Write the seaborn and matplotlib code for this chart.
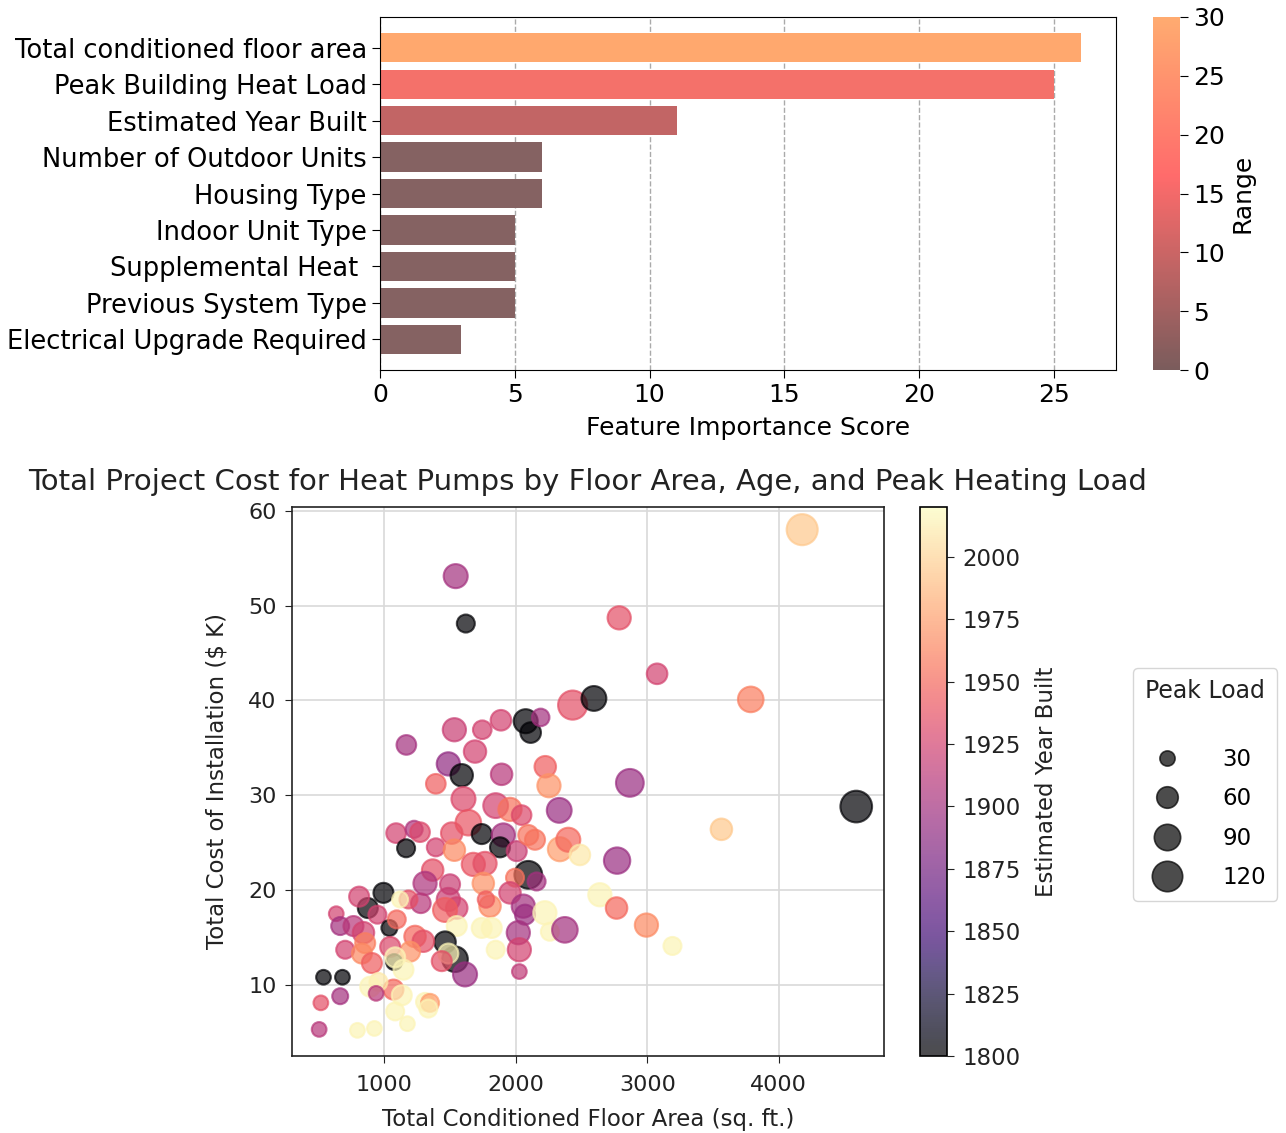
import numpy as np
import pandas as pd
import matplotlib
matplotlib.use("Agg")
import matplotlib.pyplot as plt
import seaborn as sns
from matplotlib.colors import LinearSegmentedColormap, Normalize
from matplotlib.cm import ScalarMappable
from matplotlib.lines import Line2D

# feature importance (top panel)
features = ["Total conditioned floor area", "Peak Building Heat Load", "Estimated Year Built",
            "Number of Outdoor Units", "Housing Type", "Indoor Unit Type",
            "Supplemental Heat ", "Previous System Type", "Electrical Upgrade Required"]
scores = [26, 25, 11, 6, 6, 5, 5, 5, 3]
bar_colors = ["#ffa86e", "#f4716a", "#c26565", "#856262", "#856262", "#856262",
              "#856262", "#856262", "#856262"]

# projects (bottom panel)
area = [1544, 1621, 2433, 2595, 1534, 1746, 1888, 2076, 2114, 2190, 1169, 1691, 1488, 1590, 2225,
        1893, 1393, 2253, 1603, 1848, 1957, 2045, 2331, 1091, 1228, 1273, 1167, 1393, 1514, 1534,
        1640, 1742, 1906, 1881, 2008, 2096, 2147, 2336, 2400, 2488, 1369, 1678, 1767, 1754, 1805,
        1774, 1311, 1279, 1501, 1488, 1552, 1463, 2096, 2159, 1995, 1957, 2058, 2071, 2222, 2260,
        2374, 2020, 2028, 1848, 1742, 1818, 1552, 2028, 1463, 1539, 1615, 1488, 1438, 995, 876,
        810, 636, 666, 767, 843, 949, 856, 704, 831, 907, 1040, 1096, 1185, 1121, 1235,
        1298, 1197, 1046, 1076, 1084, 1147, 1071, 957, 894, 939, 1134, 539, 683, 519, 666,
        506, 797, 926, 1084, 1177, 1311, 1349, 1336, 4178, 2787, 3075, 3787, 2868, 4589, 3564,
        2771, 2640, 2767, 2994, 3192]
cost = [53.1, 48.1, 39.5, 40.2, 36.9, 36.9, 37.9, 37.8, 36.6, 38.2, 35.3, 34.6, 33.3, 32.1, 33.0,
        32.2, 31.2, 31.0, 29.6, 28.9, 28.5, 27.9, 28.4, 26.0, 26.4, 26.1, 24.4, 24.5, 26.0, 24.2,
        27.1, 25.9, 25.8, 24.5, 24.1, 25.8, 25.3, 24.3, 25.3, 23.7, 22.1, 22.7, 22.8, 20.7, 18.3,
        19.0, 20.7, 18.6, 20.6, 19.0, 18.1, 17.9, 21.6, 20.9, 21.3, 19.7, 18.3, 17.4, 17.6, 15.6,
        15.8, 15.5, 13.7, 13.7, 16.0, 16.0, 16.2, 11.4, 14.5, 12.7, 11.1, 13.3, 12.5, 19.7, 18.1,
        19.3, 17.5, 16.2, 16.2, 15.5, 17.4, 14.4, 13.7, 13.3, 12.3, 16.0, 16.9, 19.0, 19.0, 15.1,
        14.6, 13.5, 14.0, 12.4, 12.9, 11.6, 9.5, 10.3, 9.8, 9.1, 8.9, 10.8, 10.8, 8.1, 8.8,
        5.3, 5.2, 5.4, 7.2, 5.9, 8.2, 8.1, 7.5, 58.0, 48.7, 42.8, 40.1, 31.3, 28.8, 26.4,
        23.1, 19.5, 18.1, 16.3, 14.1]
year = [1900, 1800, 1935, 1800, 1920, 1925, 1925, 1800, 1800, 1900, 1900, 1925, 1890, 1800, 1945,
        1910, 1945, 1970, 1930, 1925, 1955, 1930, 1895, 1925, 1905, 1930, 1800, 1925, 1935, 1965,
        1940, 1800, 1900, 1800, 1920, 1955, 1955, 1975, 1950, 2010, 1935, 1940, 1935, 1970, 1965,
        1945, 1905, 1910, 1920, 1920, 1925, 1945, 1800, 1900, 1955, 1925, 1900, 1895, 2015, 2015,
        1900, 1900, 1925, 2015, 2015, 2015, 2015, 1915, 1800, 1800, 1895, 2015, 1935, 1800, 1800,
        1925, 1925, 1900, 1910, 1925, 1925, 1960, 1925, 1965, 1945, 1800, 1950, 1935, 2015, 1950,
        1935, 1970, 1930, 1800, 2015, 2015, 1950, 2010, 2015, 1910, 2015, 1800, 1800, 1935, 1900,
        1910, 2015, 2015, 2015, 2015, 2015, 1975, 2015, 1995, 1935, 1925, 1960, 1895, 1800, 1995,
        1895, 2015, 1950, 1965, 2015]
peak_load = [75, 42, 110, 80, 70, 45, 55, 75, 55, 40, 50, 65, 70, 65, 60,
             60, 50, 70, 75, 80, 70, 50, 80, 50, 38, 50, 42, 42, 60, 60,
             85, 52, 70, 52, 52, 52, 52, 75, 75, 55, 60, 70, 70, 60, 60,
             35, 70, 50, 52, 70, 60, 75, 100, 42, 42, 60, 70, 52, 70, 42,
             85, 70, 70, 42, 52, 52, 52, 28, 60, 85, 75, 52, 52, 52, 52,
             52, 28, 42, 52, 60, 42, 52, 42, 52, 52, 33, 42, 42, 33, 60,
             60, 52, 52, 33, 52, 52, 52, 42, 52, 28, 52, 28, 28, 28, 33,
             28, 28, 28, 42, 28, 42, 42, 42, 125, 70, 55, 85, 100, 130, 60,
             90, 70, 60, 70, 42]
legend_loads = [30, 60, 90, 120]

df = pd.DataFrame({"area": area, "cost": cost, "year": year, "load": peak_load})

fig = plt.figure(figsize=(12.86, 11.33), dpi=100)

# ---- top: feature importance ----
ax1 = fig.add_axes([0.2955, 0.6734, 0.5723, 0.3116])
sns.barplot(x=scores, y=features, hue=features, palette=bar_colors, legend=False,
            orient="h", width=0.8, saturation=1, ax=ax1)
ax1.set_axisbelow(True)
ax1.grid(axis="x", linestyle="--", color="#aaaaaa", linewidth=1)
ax1.set_ylim(len(features) - 1 + 0.84, -0.84)
ax1.set_xlim(0, max(scores) * 1.05)
ax1.set_xlabel("Feature Importance Score", fontsize=18, labelpad=6)
ax1.set_ylabel("")
ax1.tick_params(labelsize=18.5, length=6)
ax1.tick_params(axis="x", labelsize=18)
for s in ax1.spines.values():
    s.set_visible(True)
    s.set_color("black")

range_cmap = LinearSegmentedColormap.from_list(
    "range", [(0, "#7a5c5c"), (0.55, "#ff6b6b"), (1, "#ffab70")])
cax1 = fig.add_axes([0.8966, 0.6734, 0.021, 0.3116])
cb1 = fig.colorbar(ScalarMappable(norm=Normalize(0, 30), cmap=range_cmap), cax=cax1)
cb1.outline.set_visible(False)
cb1.set_ticks([0, 5, 10, 15, 20, 25, 30])
cb1.ax.tick_params(labelsize=18, length=6)
cb1.set_label("Range", fontsize=18)

# ---- bottom: cost scatter ----
ax2 = fig.add_axes([0.2271, 0.0680, 0.4603, 0.4846])
sns.scatterplot(data=df, x="area", y="cost", hue="year", size="load", palette="magma",
                hue_norm=(1800, 2020), size_norm=(0, 150), sizes=(0, 600),
                alpha=0.7, edgecolor="face", linewidth=1.5, legend=False, ax=ax2)
ax2.set_axisbelow(True)
ax2.grid(True, color="#d9d9d9", linewidth=1.2)
ax2.set_xlim(300, 4800)
ax2.set_ylim(2.5, 60.4)
ax2.set_xticks([1000, 2000, 3000, 4000])
ax2.set_yticks([10, 20, 30, 40, 50, 60])
ax2.tick_params(labelsize=16, length=5, pad=6, colors="#222222")
ax2.tick_params(axis="x", pad=9)
ax2.set_xlabel("Total Conditioned Floor Area (sq. ft.)", fontsize=16.5, color="#222222", labelpad=9)
ax2.set_ylabel("Total Cost of Installation ($ K)", fontsize=16.5, color="#222222", labelpad=14)
ax2.set_title("Total Project Cost for Heat Pumps by Floor Area, Age, and Peak Heating Load",
              fontsize=21, color="#222222", pad=12, x=0.5)
for s in ax2.spines.values():
    s.set_color("#222222")
    s.set_linewidth(1.2)

cax2 = fig.add_axes([0.7154, 0.0680, 0.021, 0.4846])
cb2 = fig.colorbar(ScalarMappable(norm=Normalize(1800, 2020), cmap="magma"), cax=cax2, alpha=0.7)
cb2.set_ticks(list(range(1800, 2001, 25)))
cb2.ax.tick_params(labelsize=16.5, length=5, pad=6, colors="#222222")
cb2.set_label("Estimated Year Built", fontsize=16.5, color="#222222", labelpad=10)
cb2.outline.set_linewidth(1.2)

handles = [Line2D([], [], linestyle="", marker="o", color="black", alpha=0.7,
                  markersize=np.sqrt(v * 4), markeredgewidth=1.2) for v in legend_loads]
leg = fig.legend(handles, [str(v) for v in legend_loads], title="Peak Load\n",
                 loc="upper left", bbox_to_anchor=(0.881, 0.4104), fontsize=16.5,
                 title_fontsize=17, labelspacing=0.72, handletextpad=1.4,
                 borderpad=0.5, borderaxespad=0, frameon=True)
leg.get_title().set_color("#222222")

fig.savefig("out.png", dpi=100)
